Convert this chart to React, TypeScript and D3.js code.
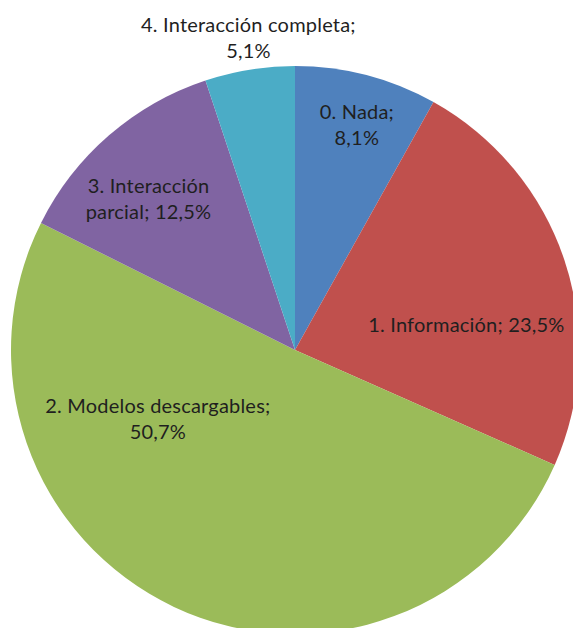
import React from "react";
import * as d3 from "d3";

const categories = [
  "0. Nada",
  "1. Información",
  "2. Modelos descargables",
  "3. Interacción parcial",
  "4. Interacción completa",
];
const values = [8.1, 23.5, 50.7, 12.5, 5.1];
const valueLabels = ["8,1%", "23,5%", "50,7%", "12,5%", "5,1%"];
const colors = ["#4F81BD", "#C0504D", "#9BBB59", "#8064A2", "#4BACC6"];
// label text lines
const labelLines = [
  ["0. Nada;", "8,1%"],
  ["1. Información; 23,5%"],
  ["2. Modelos descargables;", "50,7%"],
  ["3. Interacción", "parcial; 12,5%"],
  ["4. Interacción completa;", "5,1%"],
];
// label placement: polar (degrees clockwise from top, fraction of radius)
const labelPolar = [
  [15.4, 0.82],
  [81.7, 0.61],
  [243.4, 0.54],
  [315.8, 0.74],
  [351.5, 1.11],
];

const W = 573;
const H = 628;
const cx = 295;
const cy = 350;
const R = 284;

export default function App() {
  const pie = d3.pie<number>().sort(null).value((d) => d)(values);
  const arc = d3.arc<d3.PieArcDatum<number>>().innerRadius(0).outerRadius(R);
  const lineH = 26;
  return (
    <svg
      width={W}
      height={H}
      style={{ position: "absolute", left: 0, top: 0, background: "#fff" }}
    >
      <g transform={`translate(${cx},${cy})`}>
        {pie.map((p, i) => (
          <path key={categories[i]} d={arc(p) || ""} fill={colors[i]} />
        ))}
        {labelLines.map((lines, i) => {
          const [deg, f] = labelPolar[i];
          const a = (deg * Math.PI) / 180;
          const x = Math.sin(a) * R * f;
          const y = -Math.cos(a) * R * f;
          const y0 = y - ((lines.length - 1) * lineH) / 2;
          return (
            <text
              key={i}
              textAnchor="middle"
              fontFamily="Lato, 'Open Sans', sans-serif"
              fontSize={20}
              letterSpacing={0.2}
              fill="#1f1f1f"
            >
              {lines.map((l, j) => (
                <tspan key={j} x={x} y={y0 + j * lineH} dy="0.35em">
                  {l}
                </tspan>
              ))}
            </text>
          );
        })}
      </g>
    </svg>
  );
}
